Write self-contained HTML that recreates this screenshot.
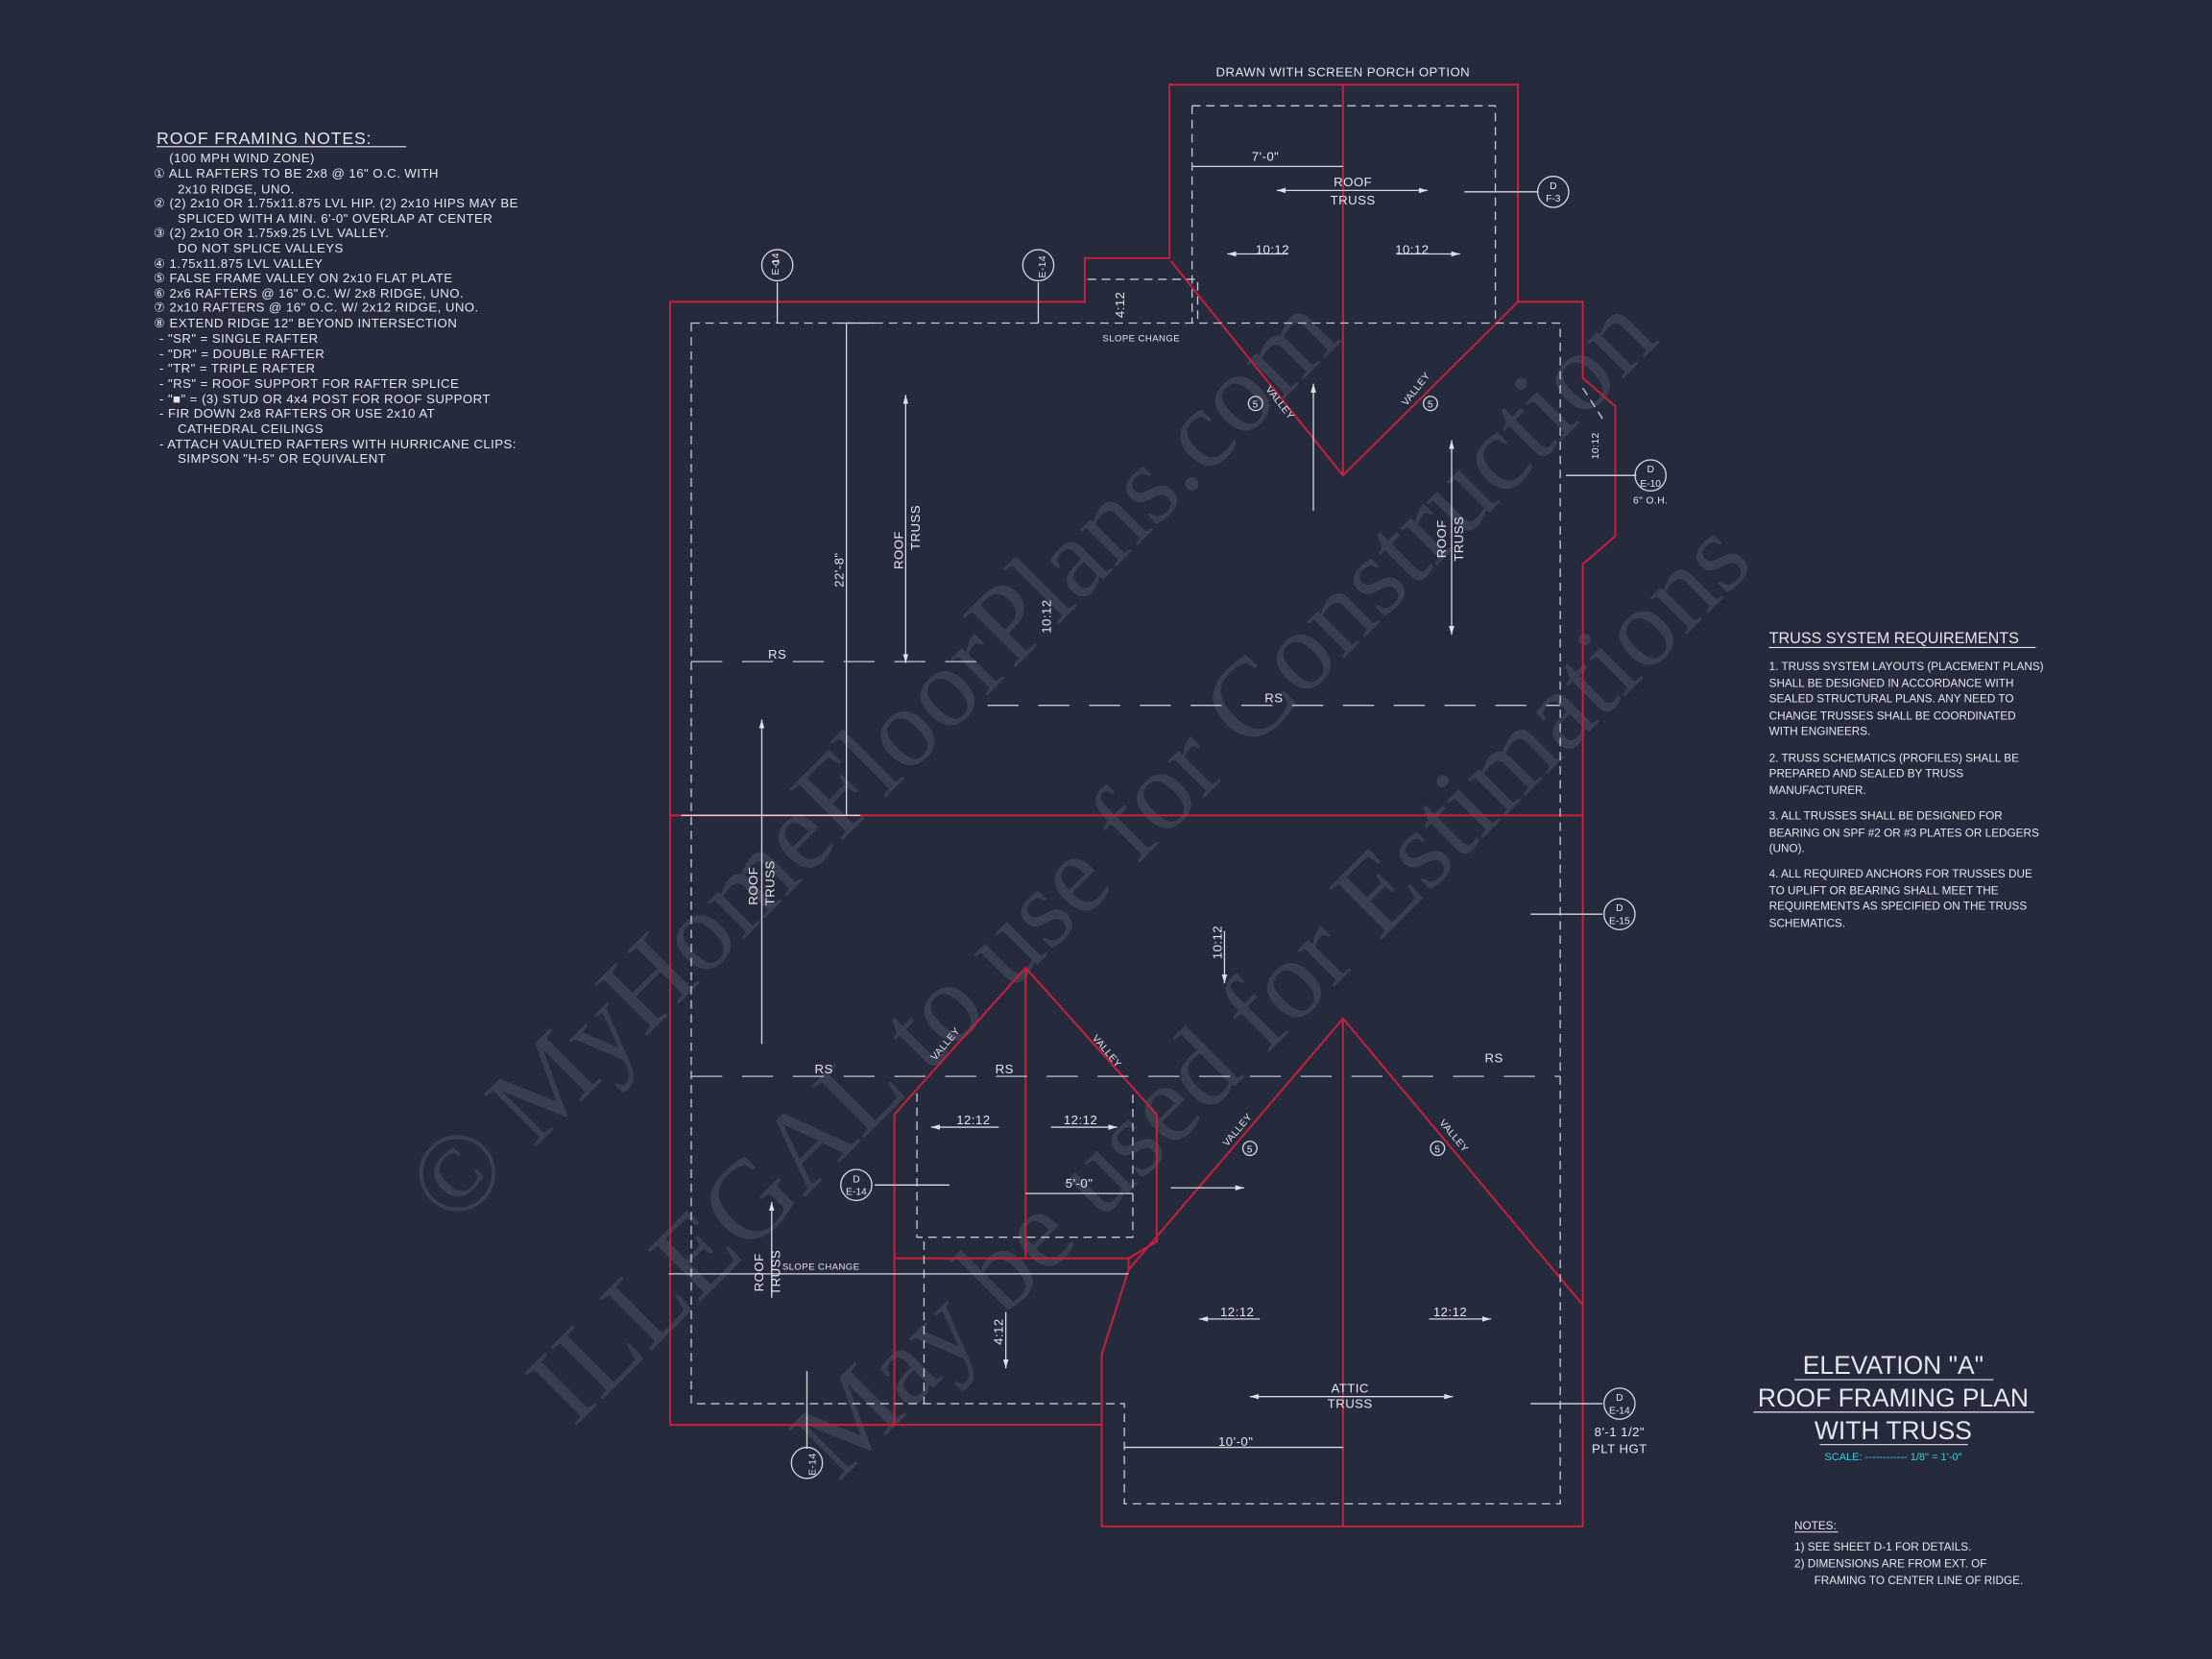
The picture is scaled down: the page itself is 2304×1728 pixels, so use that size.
<!DOCTYPE html>
<html><head><meta charset="utf-8"><style>
html,body{margin:0;padding:0;background:#252a3c;}
svg{display:block}
text{font-family:"Liberation Sans",sans-serif;fill:#e6e6ee;}
.s{font-size:9px;letter-spacing:0.3px}
.r{stroke:#c4203c;stroke-width:1.4;fill:none}
.w{stroke:#d8d8e0;stroke-width:0.9;fill:none}
.d{stroke:#c8c8d2;stroke-width:0.9;fill:none;stroke-dasharray:6 4}
.D{stroke:#c8c8d2;stroke-width:0.9;fill:none;stroke-dasharray:22 14}
.wm{font-family:"Liberation Serif",serif;font-size:80px;fill:#8a8fa3;fill-opacity:0.2}
</style></head><body>
<svg width="2304" height="1728" viewBox="0 0 1568 1176" xmlns="http://www.w3.org/2000/svg">
<defs><marker id="a" viewBox="0 0 10 10" refX="10" refY="5" markerWidth="7" markerHeight="7" orient="auto-start-reverse"><path d="M0,2 L10,5 L0,8 Z" fill="#e0e0e8"/></marker></defs>
<rect width="1568" height="1176" fill="#252a3c"/>
<!-- watermark -->
<g transform="translate(785,620) rotate(-45)">
<text class="wm" x="-60" y="-150" text-anchor="middle">© MyHomeFloorPlans.com</text>
<text class="wm" x="0" y="10" text-anchor="middle">ILLEGAL to use for Construction</text>
<text class="wm" x="20" y="170" text-anchor="middle">May be used for Estimations</text>
</g>
<!-- red outline -->
<path class="r" d="M475,214 L769,214 L769,183 L829,183 L829,60 L1076,60 L1076,214 L1122,214 L1122,268 L1145,288 L1145,380 L1122,400 L1122,1082 L781,1082 L781,960 L800,900 L800,892 L634,892 L634,1010 L475,1010 Z"/>
<line class="r" x1="475" y1="1010" x2="781" y2="1010"/>
<path class="r" d="M830,185 L952,337 L1076,214"/>
<line class="r" x1="952" y1="60" x2="952" y2="337"/>
<line class="r" x1="475" y1="578" x2="1122" y2="578"/>
<path class="r" d="M634,790 L727,686 L820,790 L820,880 L800,892 M634,790 L634,892"/>
<line class="r" x1="727" y1="686" x2="727" y2="892"/>
<path class="r" d="M800,900 L952,722 L1122,925"/>
<line class="r" x1="952" y1="722" x2="952" y2="1082"/>
<!-- dashed inner -->
<path class="d" d="M490,229 L1106,229 L1106,1066 L797,1066 L797,995 L490,995 Z"/>
<path class="d" d="M845,75 L1060,75 L1060,229"/>
<path class="d" d="M845,75 L845,229"/>
<path class="d" d="M771,198 L849,198 L849,229"/>
<path class="d" d="M650,775 L650,877 L803,877 L803,775"/>
<line class="d" x1="655" y1="880" x2="655" y2="995"/>
<line class="d" x1="1122" y1="275" x2="1138" y2="300"/>
<!-- RS dashed -->
<line class="D" x1="490" y1="469" x2="700" y2="469"/>
<line class="D" x1="700" y1="500" x2="1106" y2="500"/>
<line class="D" x1="490" y1="763" x2="1106" y2="763"/>
<!-- white lines -->
<line class="w" x1="600" y1="229" x2="600" y2="578"/>
<line class="w" x1="595" y1="229" x2="620" y2="229"/>
<line class="w" x1="483" y1="578" x2="610" y2="578"/>
<line class="w" x1="474" y1="903" x2="800" y2="903"/>
<line class="w" x1="845" y1="118" x2="952" y2="118"/>
<line class="w" x1="797" y1="1026" x2="952" y2="1026"/>
<line class="w" x1="727" y1="846" x2="803" y2="846"/>
<g class="w">
<line x1="642" y1="280" x2="642" y2="470" marker-start="url(#a)" marker-end="url(#a)"/>
<line x1="540" y1="510" x2="540" y2="740" marker-start="url(#a)"/>
<line x1="1029" y1="312" x2="1029" y2="450" marker-start="url(#a)" marker-end="url(#a)"/>
<line x1="931" y1="272" x2="931" y2="362" marker-start="url(#a)"/>
<line x1="547" y1="852" x2="547" y2="920" marker-start="url(#a)"/>
<line x1="713" y1="930" x2="713" y2="970" marker-end="url(#a)"/>
<line x1="868" y1="660" x2="868" y2="697" marker-end="url(#a)"/>
<line x1="886" y1="990" x2="1030" y2="990" marker-start="url(#a)" marker-end="url(#a)"/>
<line x1="1038" y1="136" x2="1090" y2="136"/><line x1="1110" y1="337" x2="1160" y2="337"/>
<line x1="1085" y1="648" x2="1136" y2="648"/><line x1="1085" y1="995" x2="1136" y2="995"/>
<line x1="620" y1="840" x2="673" y2="840"/><line x1="830" y1="842" x2="882" y2="842" marker-end="url(#a)"/>
<line x1="572" y1="972" x2="572" y2="1027"/><line x1="551" y1="200" x2="551" y2="229"/><line x1="736" y1="200" x2="736" y2="229"/>
<line x1="870" y1="180" x2="913" y2="180" marker-start="url(#a)"/><line x1="990" y1="180" x2="1035" y2="180" marker-end="url(#a)"/>
<line x1="660" y1="799" x2="708" y2="799" marker-start="url(#a)"/><line x1="745" y1="799" x2="792" y2="799" marker-end="url(#a)"/>
<line x1="850" y1="935" x2="893" y2="935" marker-start="url(#a)"/><line x1="1013" y1="935" x2="1057" y2="935" marker-end="url(#a)"/>
<line x1="905" y1="135" x2="1012" y2="135" marker-start="url(#a)" marker-end="url(#a)"/>
</g>
<!-- detail circles -->
<g class="w">
<circle cx="551" cy="188" r="11"/><circle cx="736" cy="188" r="11"/><circle cx="1101" cy="136" r="11"/>
<circle cx="1170" cy="337" r="11"/><circle cx="1148" cy="648" r="11"/><circle cx="1148" cy="995" r="11"/>
<circle cx="607" cy="840" r="11"/><circle cx="572" cy="1037" r="11"/>
</g>
<g style="font-size:7px" text-anchor="middle">
<text x="1101" y="134">D</text><text x="1101" y="143">F-3</text>
<text x="1170" y="335">D</text><text x="1170" y="345">E-10</text>
<text x="1148" y="646">D</text><text x="1148" y="655">E-15</text>
<text x="1148" y="993">D</text><text x="1148" y="1002">E-14</text>
<text x="607" y="838">D</text><text x="607" y="847">E-14</text>
</g>
<!-- labels -->
<g class="s" text-anchor="middle">
<text x="952" y="54">DRAWN WITH SCREEN PORCH OPTION</text>
<text x="897" y="114">7'-0"</text>
<text x="959" y="132">ROOF</text><text x="959" y="145">TRUSS</text>
<text x="902" y="180">10:12</text><text x="1001" y="180">10:12</text>
<text x="809" y="242" style="font-size:6.5px">SLOPE CHANGE</text>
<text x="551" y="467">RS</text><text x="903" y="498">RS</text>
<text x="584" y="761">RS</text><text x="712" y="761">RS</text><text x="1059" y="753">RS</text>
<text x="690" y="797">12:12</text><text x="766" y="797">12:12</text>
<text x="765" y="842">5'-0"</text>
<text x="877" y="933">12:12</text><text x="1028" y="933">12:12</text>
<text x="957" y="987">ATTIC</text><text x="957" y="998">TRUSS</text>
<text x="876" y="1025">10'-0"</text>
<text x="1170" y="357" style="font-size:7px">6" O.H.</text>
<text x="1148" y="1018">8'-1 1/2"</text><text x="1148" y="1030">PLT HGT</text>
<text x="582" y="900" style="font-size:6.5px">SLOPE CHANGE</text>
<text x="890" y="289" style="font-size:7px">5</text><text x="1014" y="289" style="font-size:7px">5</text>
<text x="886" y="817" style="font-size:7px">5</text><text x="1019" y="817" style="font-size:7px">5</text>
</g>
<g class="s">
<text transform="translate(640,390) rotate(-90)" text-anchor="middle">ROOF</text>
<text transform="translate(652,374) rotate(-90)" text-anchor="middle">TRUSS</text>
<text transform="translate(1025,382) rotate(-90)" text-anchor="middle">ROOF</text>
<text transform="translate(1037,382) rotate(-90)" text-anchor="middle">TRUSS</text>
<text transform="translate(537,628) rotate(-90)" text-anchor="middle">ROOF</text>
<text transform="translate(549,626) rotate(-90)" text-anchor="middle">TRUSS</text>
<text transform="translate(541,902) rotate(-90)" text-anchor="middle">ROOF</text>
<text transform="translate(553,902) rotate(-90)" text-anchor="middle">TRUSS</text>
<text transform="translate(598,404) rotate(-90)" text-anchor="middle">22'-8"</text>
<text transform="translate(745,437) rotate(-90)" text-anchor="middle">10:12</text>
<text transform="translate(866,668) rotate(-90)" text-anchor="middle">10:12</text>
<text transform="translate(711,944) rotate(-90)" text-anchor="middle">4:12</text>
<text transform="translate(797,216) rotate(-90)" text-anchor="middle">4:12</text>
<text transform="translate(1133,316) rotate(-90)" text-anchor="middle" style="font-size:7px">10:12</text>
<text transform="translate(548,184) rotate(90)" style="font-size:6px">D</text>
<text transform="translate(552,195) rotate(-90)" style="font-size:7px">E-14</text>
<text transform="translate(741,197) rotate(-90)" style="font-size:7px">E-14</text>
<text transform="translate(578,1046) rotate(-90)" style="font-size:7px">E-14</text>
<text transform="translate(897,276) rotate(52)" style="font-size:7px">VALLEY</text>
<text transform="translate(997,288) rotate(-52)" style="font-size:7px">VALLEY</text>
<text transform="translate(663,752) rotate(-50)" style="font-size:7px">VALLEY</text>
<text transform="translate(774,736) rotate(50)" style="font-size:7px">VALLEY</text>
<text transform="translate(870,813) rotate(-50)" style="font-size:7px">VALLEY</text>
<text transform="translate(1020,796) rotate(50)" style="font-size:7px">VALLEY</text>
</g>
<g class="w"><circle cx="890" cy="286" r="5"/><circle cx="1014" cy="286" r="5"/><circle cx="886" cy="814" r="5"/><circle cx="1019" cy="814" r="5"/></g>
<!-- left notes -->
<text x="111" y="102" style="font-size:12px;letter-spacing:0.6px">ROOF FRAMING NOTES:</text>
<line x1="111" y1="104" x2="288" y2="104" stroke="#e6e6ee" stroke-width="0.8"/>
<g class="s">
<text x="120" y="115">(100 MPH WIND ZONE)</text>
<text x="109" y="126">①  ALL RAFTERS TO BE 2x8 @ 16" O.C. WITH</text>
<text x="126" y="137">2x10 RIDGE, UNO.</text>
<text x="109" y="147">②  (2) 2x10 OR 1.75x11.875 LVL HIP. (2) 2x10 HIPS MAY BE</text>
<text x="126" y="158">SPLICED WITH A MIN. 6'-0" OVERLAP AT CENTER</text>
<text x="109" y="168">③  (2) 2x10 OR 1.75x9.25 LVL VALLEY.</text>
<text x="126" y="179">DO NOT SPLICE VALLEYS</text>
<text x="109" y="190">④  1.75x11.875 LVL VALLEY</text>
<text x="109" y="200">⑤  FALSE FRAME VALLEY ON 2x10 FLAT PLATE</text>
<text x="109" y="211">⑥  2x6 RAFTERS @ 16" O.C. W/ 2x8 RIDGE, UNO.</text>
<text x="109" y="221">⑦  2x10 RAFTERS @ 16" O.C. W/ 2x12 RIDGE, UNO.</text>
<text x="109" y="232">⑧  EXTEND RIDGE 12" BEYOND INTERSECTION</text>
<text x="113" y="243">-   "SR" = SINGLE RAFTER</text>
<text x="113" y="254">-   "DR" = DOUBLE RAFTER</text>
<text x="113" y="264">-   "TR" = TRIPLE RAFTER</text>
<text x="113" y="275">-   "RS" = ROOF SUPPORT FOR RAFTER SPLICE</text>
<text x="113" y="286">-   "■"  = (3) STUD OR 4x4 POST FOR ROOF SUPPORT</text>
<text x="113" y="296">-   FIR DOWN 2x8 RAFTERS OR USE 2x10 AT</text>
<text x="126" y="307">CATHEDRAL CEILINGS</text>
<text x="113" y="318">-   ATTACH VAULTED RAFTERS WITH HURRICANE CLIPS:</text>
<text x="126" y="328">SIMPSON "H-5" OR EQUIVALENT</text>
</g>
<!-- right notes -->
<text x="1254" y="456" style="font-size:11px">TRUSS SYSTEM REQUIREMENTS</text>
<line x1="1254" y1="459" x2="1443" y2="459" stroke="#e6e6ee" stroke-width="0.8"/>
<g style="font-size:8px">
<text x="1254" y="475">1. TRUSS SYSTEM LAYOUTS (PLACEMENT PLANS)</text>
<text x="1254" y="487">SHALL BE DESIGNED IN ACCORDANCE WITH</text>
<text x="1254" y="498">SEALED STRUCTURAL PLANS. ANY NEED TO</text>
<text x="1254" y="510">CHANGE TRUSSES SHALL BE COORDINATED</text>
<text x="1254" y="521">WITH  ENGINEERS.</text>
<text x="1254" y="540">2. TRUSS SCHEMATICS (PROFILES) SHALL BE</text>
<text x="1254" y="551">PREPARED AND SEALED BY TRUSS</text>
<text x="1254" y="563">MANUFACTURER.</text>
<text x="1254" y="581">3. ALL TRUSSES SHALL BE DESIGNED FOR</text>
<text x="1254" y="593">BEARING ON SPF #2 OR #3 PLATES OR LEDGERS</text>
<text x="1254" y="604">(UNO).</text>
<text x="1254" y="622">4. ALL REQUIRED ANCHORS FOR TRUSSES DUE</text>
<text x="1254" y="634">TO UPLIFT OR BEARING SHALL MEET THE</text>
<text x="1254" y="645">REQUIREMENTS AS SPECIFIED ON THE TRUSS</text>
<text x="1254" y="657">SCHEMATICS.</text>
</g>
<g text-anchor="middle" style="font-size:18px">
<text x="1342" y="974">ELEVATION "A"</text>
<text x="1342" y="997">ROOF FRAMING PLAN</text>
<text x="1342" y="1020">WITH TRUSS</text>
</g>
<g stroke="#e6e6ee" stroke-width="0.8"><line x1="1272" y1="978" x2="1413" y2="978"/><line x1="1243" y1="1001" x2="1442" y2="1001"/><line x1="1290" y1="1024" x2="1395" y2="1024"/></g>
<text x="1342" y="1035" text-anchor="middle" style="font-size:7.5px;fill:#30d0e0">SCALE: ------------ 1/8" = 1'-0"</text>
<g style="font-size:8px">
<text x="1272" y="1084">NOTES:</text>
<line x1="1272" y1="1086" x2="1303" y2="1086" stroke="#e6e6ee" stroke-width="0.7"/>
<text x="1272" y="1099">1)  SEE SHEET D-1 FOR DETAILS.</text>
<text x="1272" y="1111">2)  DIMENSIONS ARE FROM EXT. OF</text>
<text x="1286" y="1123">FRAMING TO CENTER LINE OF RIDGE.</text>
</g>
</svg>
</body></html>
